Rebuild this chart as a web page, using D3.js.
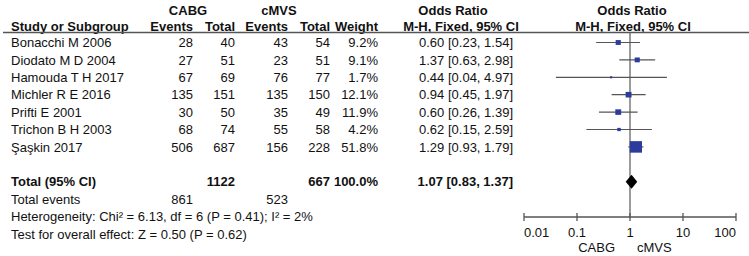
<!DOCTYPE html>
<html lang="en">
<head>
<meta charset="utf-8">
<style>
  body { margin: 0; background: #fff; }
  svg text { font-family: Arial, "Liberation Sans", sans-serif; font-size: 13px; fill: #111; }
  .b { font-weight: bold; }
</style>
</head>
<body>
<script src="https://d3js.org/d3.v7.min.js"></script>
<script>
// study data
var studies = ["Bonacchi M 2006", "Diodato M D 2004", "Hamouda T H 2017", "Michler R E 2016",
               "Prifti E 2001", "Trichon B H 2003", "Şaşkin 2017"];
var cabgEvents = [28, 27, 67, 135, 30, 68, 506];
var cabgTotal = [40, 51, 69, 151, 50, 74, 687];
var cmvsEvents = [43, 23, 76, 135, 35, 55, 156];
var cmvsTotal = [54, 51, 77, 150, 49, 58, 228];
var weights = [9.2, 9.1, 1.7, 12.1, 11.9, 4.2, 51.8];
var or = [0.60, 1.37, 0.44, 0.94, 0.60, 0.62, 1.29];
var lo = [0.23, 0.63, 0.04, 0.45, 0.26, 0.15, 0.93];
var hi = [1.54, 2.98, 4.97, 1.97, 1.39, 2.59, 1.79];
var total = { n1: 1122, n2: 667, e1: 861, e2: 523, or: 1.07, lo: 0.83, hi: 1.37 };
var axisTicks = [0.01, 0.1, 1, 10, 100];

var width = 749, height = 256;
var svg = d3.select("body").append("svg").attr("width", width).attr("height", height);

var x = d3.scaleLog().domain([0.01, 100]).range([524, 736]);
// one row = 17.4px, row 0 = first study
var y = d3.scaleLinear().domain([0, 1]).range([42.5, 59.9]);
var yTotal = y(8), yAxis = 217;

function txt(s, px, py, anchor, cls) {
  return svg.append("text").attr("x", px).attr("y", py).attr("dy", "0.36em")
    .attr("text-anchor", anchor || "start").attr("class", cls || null).text(s);
}

// headers
txt("CABG", 188, 10, "middle", "b");
txt("cMVS", 279, 10, "middle", "b");
txt("Odds Ratio", 453, 10, "middle", "b");
txt("Odds Ratio", 632, 10, "middle", "b");
txt("Study or Subgroup", 11, 26, "start", "b");
txt("Events", 193, 26, "end", "b");
txt("Total", 235, 26, "end", "b");
txt("Events", 288, 26, "end", "b");
txt("Total", 330, 26, "end", "b");
txt("Weight", 378, 26, "end", "b");
txt("M-H, Fixed, 95% CI", 461, 26, "middle", "b");
txt("M-H, Fixed, 95% CI", 633, 26, "middle", "b");

svg.append("line").attr("x1", 3).attr("x2", width).attr("y1", 32.5).attr("y2", 32.5)
  .attr("stroke", "#555").attr("stroke-width", 1.3);

// rows
var fmt = d3.format(".2f");
studies.forEach(function (s, i) {
  var yy = y(i);
  txt(s, 11, yy);
  txt(cabgEvents[i], 193, yy, "end");
  txt(cabgTotal[i], 235, yy, "end");
  txt(cmvsEvents[i], 288, yy, "end");
  txt(cmvsTotal[i], 330, yy, "end");
  txt(weights[i].toFixed(1) + "%", 378, yy, "end");
  txt(fmt(or[i]) + " [" + fmt(lo[i]) + ", " + fmt(hi[i]) + "]", 513, yy, "end");
});

// totals
txt("Total (95% CI)", 11, yTotal, "start", "b");
txt(total.n1, 235, yTotal, "end", "b");
txt(total.n2, 330, yTotal, "end", "b");
txt("100.0%", 378, yTotal, "end", "b");
txt(fmt(total.or) + " [" + fmt(total.lo) + ", " + fmt(total.hi) + "]", 513, yTotal, "end", "b");
txt("Total events", 11, y(9));
txt(total.e1, 193, y(9), "end");
txt(total.e2, 288, y(9), "end");
txt("Heterogeneity: Chi\u00b2 = 6.13, df = 6 (P = 0.41); I\u00b2 = 2%", 11, y(10));
txt("Test for overall effect: Z = 0.50 (P = 0.62)", 11, y(11));

// null line
svg.append("line").attr("x1", x(1)).attr("x2", x(1)).attr("y1", 32.5).attr("y2", yAxis)
  .attr("stroke", "#666").attr("stroke-width", 1.3);

// CI lines and squares
var g = svg.append("g");
g.selectAll("line.ci").data(studies).join("line").attr("class", "ci")
  .attr("x1", function (d, i) { return x(lo[i]); })
  .attr("x2", function (d, i) { return x(hi[i]); })
  .attr("y1", function (d, i) { return y(i); })
  .attr("y2", function (d, i) { return y(i); })
  .attr("stroke", "#555").attr("stroke-width", 1.2);
g.selectAll("rect").data(studies).join("rect")
  .attr("x", function (d, i) { return x(or[i]) - 0.85 * Math.sqrt(weights[i]); })
  .attr("y", function (d, i) { return y(i) - 0.8 * Math.sqrt(weights[i]); })
  .attr("width", function (d, i) { return 1.7 * Math.sqrt(weights[i]); })
  .attr("height", function (d, i) { return 1.6 * Math.sqrt(weights[i]); })
  .attr("fill", "#2b3c9c");

// diamond
svg.append("path")
  .attr("d", "M" + x(total.lo) + "," + yTotal + "L" + x(total.or) + "," + (yTotal - 7) +
    "L" + x(total.hi) + "," + yTotal + "L" + x(total.or) + "," + (yTotal + 7) + "Z")
  .attr("fill", "#000");

// axis
svg.append("line").attr("x1", x(0.01)).attr("x2", x(100)).attr("y1", yAxis).attr("y2", yAxis)
  .attr("stroke", "#555").attr("stroke-width", 1.3);
svg.selectAll("line.tk").data(axisTicks).join("line").attr("class", "tk")
  .attr("x1", function (d) { return x(d); }).attr("x2", function (d) { return x(d); })
  .attr("y1", yAxis - 4).attr("y2", yAxis + 4)
  .attr("stroke", "#555").attr("stroke-width", 1.3);
axisTicks.forEach(function (t, i) {
  var a = i === 0 ? "start" : (i === axisTicks.length - 1 ? "end" : "middle");
  txt(String(t), x(t), 232.5, a);
});
txt("CABG", 615, 247.5, "end");
txt("cMVS", 637, 247.5, "start");

console.log("ready..");
</script>
</body>
</html>
